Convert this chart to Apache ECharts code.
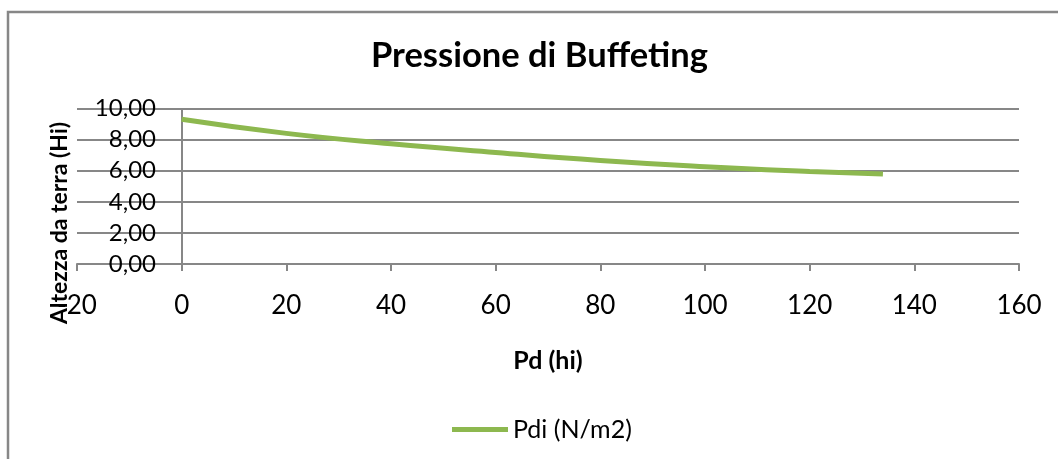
<!DOCTYPE html>
<html>
<head>
<meta charset="utf-8">
<script src="https://cdn.jsdelivr.net/npm/echarts@6/dist/echarts.min.js"></script>
<style>
html,body{margin:0;padding:0;background:#fff;}
#chart{width:1058px;height:459px;}
</style>
</head>
<body>
<div id="chart"></div>
<script>
var titleText = 'Pressione di Buffeting';
var seriesName = 'Pdi (N/m2)';
var xAxisName = 'Pd (hi)';
var yAxisName = 'Altezza da terra (Hi)';
var pdValues = [0, 20, 40, 60, 80, 100, 120, 134];
var heightValues = [9.31, 8.40, 7.73, 7.17, 6.66, 6.26, 5.95, 5.78];
var xTickLabels = ['-20', '0', '20', '40', '60', '80', '100', '120', '140', '160'];
var yTickLabels = ['0,00', '2,00', '4,00', '6,00', '8,00', '10,00'];

var data = pdValues.map(function (x, i) { return [x, heightValues[i]]; });
var gray = '#878787';
var green = '#8DB84F';
var font = 'Lato, "Open Sans", sans-serif';

var chart = echarts.init(document.getElementById('chart'));
chart.setOption({
  animation: false,
  backgroundColor: '#fff',
  title: {
    text: titleText,
    left: 371,
    top: 38,
    padding: 0,
    textStyle: { fontFamily: font, fontSize: 34.5, fontWeight: 'bold', color: '#000' }
  },
  legend: {
    left: 447,
    top: 412,
    itemWidth: 56,
    itemHeight: 5,
    itemGap: 5,
    data: [{ name: seriesName, icon: 'rect', itemStyle: { color: green } }],
    textStyle: { fontFamily: font, fontSize: 25, color: '#000' }
  },
  grid: { left: 77, right: 39, top: 108.5, bottom: 195, containLabel: false, outerBoundsMode: 'none' },
  xAxis: {
    type: 'value',
    min: -20,
    max: 160,
    interval: 20,
    name: xAxisName,
    nameLocation: 'middle',
    nameGap: 84,
    nameMoveOverlap: false,
    nameTextStyle: { fontFamily: font, fontSize: 25, fontWeight: 'bold', color: '#000' },
    axisLine: { onZero: false, lineStyle: { color: gray, width: 2 } },
    axisTick: { show: true, length: 7, lineStyle: { color: gray, width: 2 } },
    splitLine: { show: false },
    axisLabel: {
      margin: 29,
      fontFamily: font,
      fontSize: 26,
      color: '#000',
      formatter: function (v) { return xTickLabels[Math.round((v + 20) / 20)]; }
    }
  },
  yAxis: {
    type: 'value',
    min: 0,
    max: 10,
    interval: 2,
    axisLine: { show: false, onZero: false },
    axisTick: { show: false },
    splitLine: { show: true, lineStyle: { color: gray, width: 2 } },
    axisLabel: {
      margin: -79,
      align: 'right',
      fontFamily: font,
      fontSize: 24,
      color: '#000',
      formatter: function (v) { return yTickLabels[Math.round(v / 2)]; }
    }
  },
  series: [{
    name: seriesName,
    type: 'line',
    data: data,
    smooth: true,
    symbol: 'none',
    lineStyle: { color: green, width: 5 },
    itemStyle: { color: green },
    z: 3,
    markLine: {
      silent: true,
      symbol: 'none',
      label: { show: false },
      lineStyle: { color: gray, width: 2, type: 'solid' },
      data: [{ xAxis: 0 }],
      z: 1
    }
  }],
  graphic: [{
    type: 'rect',
    shape: { x: 8, y: 12, width: 1200, height: 600 },
    style: { fill: 'none', stroke: gray, lineWidth: 2.5 },
    silent: true
  }, {
    type: 'text',
    x: 60,
    y: 223,
    rotation: Math.PI / 2,
    silent: true,
    z: 10,
    style: {
      text: yAxisName,
      fontFamily: font,
      fontSize: 23,
      fontWeight: 'bold',
      fill: '#000',
      align: 'center',
      verticalAlign: 'middle'
    }
  }]
});
</script>
</body>
</html>
